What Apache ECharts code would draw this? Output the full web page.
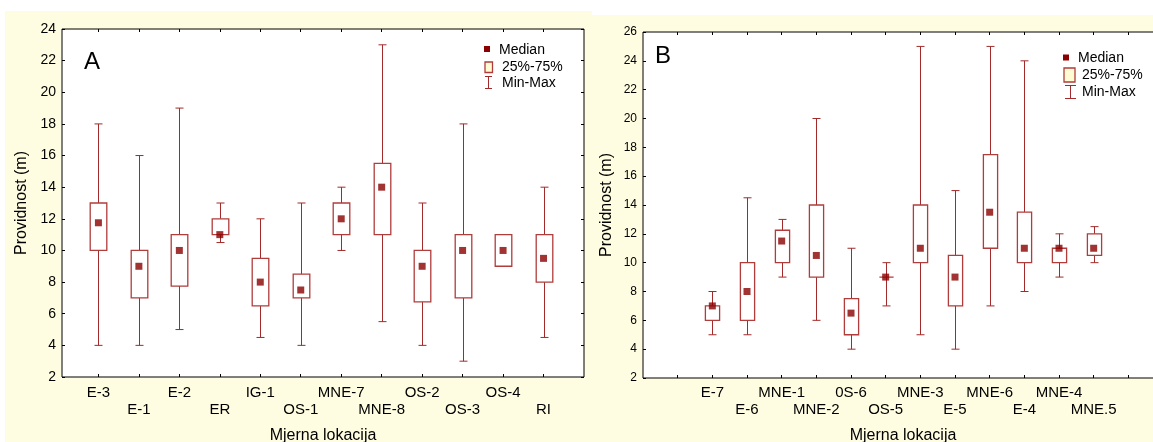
<!DOCTYPE html>
<html>
<head>
<meta charset="utf-8">
<script src="https://cdn.jsdelivr.net/npm/echarts@6/dist/echarts.min.js"></script>
<style>
  html, body { margin: 0; padding: 0; background: #ffffff; }
  #wrap { position: relative; width: 1153px; height: 442px; overflow: hidden; }
  .panel { position: absolute; background: #fffde1; }
  #chart { position: absolute; left: 0; top: 0; width: 1153px; height: 442px; }
</style>
</head>
<body>
<div id="wrap">
  <div class="panel" style="left:5px; top:11px; width:587px; height:431px;"></div>
  <div class="panel" style="left:592px; top:15px; width:561px; height:427px;"></div>
  <div id="chart"></div>
</div>
<script>
// ---------- Panel A data ----------
const catsA   = ['E-3','E-1','E-2','ER','IG-1','OS-1','MNE-7','MNE-8','OS-2','OS-3','OS-4','RI'];
const minA    = [4,    4,    5,    10.5, 4.5, 4,   10, 5.5,  4,    3,  9,  4.5];
const q1A     = [10,   7,    7.75, 11,   6.5, 7,   11, 11,   6.75, 7,  9,  8];
const medA    = [11.75,9,    10,   11,   8,   7.5, 12, 14,   9,    10, 10, 9.5];
const q3A     = [13,   10,   11,   12,   9.5, 8.5, 13, 15.5, 10,   11, 11, 11];
const maxA    = [18,   16,   19,   13,   12,  13,  14, 23,   13,   18, 11, 14];
const yTicksA = [2,4,6,8,10,12,14,16,18,20,22,24];

// ---------- Panel B data ----------
const catsB   = ['E-7','E-6','MNE-1','MNE-2','0S-6','OS-5','MNE-3','E-5','MNE-6','E-4','MNE-4','MNE.5'];
const minB    = [5, 5,   9,     6,    4,   7, 5,  4,    7,    8,    9,  10];
const q1B     = [6, 6,   10,    9,    5,   9, 10, 7,    11,   10,   10, 10.5];
const medB    = [7, 8,   11.5,  10.5, 6.5, 9, 11, 9,    13.5, 11,   11, 11];
const q3B     = [7, 10,  12.25, 14,   7.5, 9, 14, 10.5, 17.5, 13.5, 11, 12];
const maxB    = [8, 14.5,13,    20,   11,  10,25, 15,   25,   24,   12, 12.5];
const yTicksB = [2,4,6,8,10,12,14,16,18,20,22,24,26];

// positions of categories on the x scale
const posA = catsA.map((c, i) => i + 1);       // 1..12
const posB = catsB.map((c, i) => i + 2);       // 2..13 (slots 1 and 14 empty)
const tickPosB = [1].concat(posB, [14]);
const rowA1 = posA.filter((p, i) => i % 2 === 0), rowA2 = posA.filter((p, i) => i % 2 === 1);
const rowB1 = posB.filter((p, i) => i % 2 === 0), rowB2 = posB.filter((p, i) => i % 2 === 1);

const FONT = '"Liberation Sans", Arial, sans-serif';
const LINE = '#a32a2a';
const MED = '#8b0000';

function boxData(pos, mn, q1, md, q3, mx) {
  return pos.map((p, i) => [p, mn[i], q1[i], md[i], q3[i], mx[i]]);
}
function medData(pos, md) { return pos.map((p, i) => [p, md[i]]); }

function renderBox(params, api) {
  const x = api.value(0);
  const pMin = api.coord([x, api.value(1)]);
  const pQ1 = api.coord([x, api.value(2)]);
  const pQ3 = api.coord([x, api.value(4)]);
  const pMax = api.coord([x, api.value(5)]);
  const bw = api.size([1, 0])[0] * 0.41;
  const cw = 8;
  const cx = Math.round(pMin[0]) + 0.5;
  const st = { stroke: LINE, lineWidth: 1, fill: null };
  const ch = [];
  ch.push({ type: 'line', shape: { x1: cx, y1: pMax[1], x2: cx, y2: pQ3[1] }, style: st });
  ch.push({ type: 'line', shape: { x1: cx, y1: pQ1[1], x2: cx, y2: pMin[1] }, style: st });
  ch.push({ type: 'line', shape: { x1: cx - cw / 2, y1: pMax[1], x2: cx + cw / 2, y2: pMax[1] }, style: st });
  ch.push({ type: 'line', shape: { x1: cx - cw / 2, y1: pMin[1], x2: cx + cw / 2, y2: pMin[1] }, style: st });
  ch.push({ type: 'rect', shape: { x: cx - bw / 2, y: pQ3[1], width: bw, height: pQ1[1] - pQ3[1] },
            style: { stroke: '#b03c3c', lineWidth: 1.3, fill: '#ffffff' } });
  return { type: 'group', children: ch };
}

function lblA(v) { const i = posA.indexOf(Math.round(v)); return i < 0 ? '' : catsA[i]; }
function lblB(v) { const i = posB.indexOf(Math.round(v)); return i < 0 ? '' : catsB[i]; }

const gridA = { left: 62, top: 29, width: 522, height: 348 };
const gridB = { left: 643, top: 32, width: 520, height: 346 };

const chart = echarts.init(document.getElementById('chart'), null, { renderer: 'canvas' });

const tickStyle = { show: true, inside: true, length: 3, lineStyle: { color: '#000', width: 1 } };
const labelBase = { color: '#000', fontSize: 15, fontFamily: FONT, showMinLabel: true, showMaxLabel: true, hideOverlap: false };

function labelAxis(grid, min, max, vals, fmt, margin, extra) {
  return Object.assign({
    type: 'value', gridIndex: grid, min: min, max: max, position: 'bottom',
    splitLine: { show: false }, axisLine: { show: false }, axisTick: { show: false },
    axisLabel: Object.assign({ customValues: vals, formatter: fmt, margin: margin }, labelBase)
  }, extra || {});
}

const option = {
  backgroundColor: 'transparent',
  animation: false,
  textStyle: { fontFamily: FONT },
  grid: [
    Object.assign({ show: true, backgroundColor: '#ffffff', borderColor: '#000', borderWidth: 1, outerBoundsMode: 'none', containLabel: false }, gridA),
    Object.assign({ show: true, backgroundColor: '#ffffff', borderColor: '#000', borderWidth: 1, outerBoundsMode: 'none', containLabel: false }, gridB)
  ],
  xAxis: [
    // 0: panel A main axis (ticks + first label row + name)
    labelAxis(0, 0.1, 13, rowA1, lblA, 8, {
      axisTick: Object.assign({ customValues: posA }, tickStyle),
      name: 'Mjerna lokacija', nameLocation: 'middle', nameGap: 51,
      nameTextStyle: { color: '#000', fontSize: 16, fontFamily: FONT } }),
    // 1: panel A second label row
    labelAxis(0, 0.1, 13, rowA2, lblA, 25),
    // 2: panel A top ticks
    { type: 'value', gridIndex: 0, min: 0.1, max: 13, position: 'top',
      splitLine: { show: false }, axisLine: { show: false },
      axisTick: Object.assign({ customValues: posA }, tickStyle), axisLabel: { show: false } },
    // 3: panel B main axis
    labelAxis(1, 0, 15, rowB1, lblB, 7, {
      axisTick: Object.assign({ customValues: tickPosB }, tickStyle),
      name: 'Mjerna lokacija', nameLocation: 'middle', nameGap: 50,
      nameTextStyle: { color: '#000', fontSize: 16, fontFamily: FONT } }),
    // 4: panel B second label row
    labelAxis(1, 0, 15, rowB2, lblB, 24),
    // 5: panel B top ticks
    { type: 'value', gridIndex: 1, min: 0, max: 15, position: 'top',
      splitLine: { show: false }, axisLine: { show: false },
      axisTick: Object.assign({ customValues: tickPosB }, tickStyle), axisLabel: { show: false } }
  ],
  yAxis: [
    { type: 'value', gridIndex: 0, min: yTicksA[0], max: yTicksA[yTicksA.length - 1], interval: 2, position: 'left',
      splitLine: { show: false }, axisLine: { show: false },
      axisTick: Object.assign({ customValues: yTicksA }, tickStyle),
      axisLabel: { customValues: yTicksA, color: '#000', fontSize: 14, margin: 6, fontFamily: FONT },
      name: 'Providnost (m)', nameLocation: 'middle', nameGap: 32, nameRotate: 90,
      nameTextStyle: { color: '#000', fontSize: 16, fontFamily: FONT } },
    { type: 'value', gridIndex: 0, min: yTicksA[0], max: yTicksA[yTicksA.length - 1], interval: 2, position: 'right',
      splitLine: { show: false }, axisLine: { show: false },
      axisTick: Object.assign({ customValues: yTicksA }, tickStyle), axisLabel: { show: false } },
    { type: 'value', gridIndex: 1, min: yTicksB[0], max: yTicksB[yTicksB.length - 1], interval: 2, position: 'left',
      splitLine: { show: false }, axisLine: { show: false },
      axisTick: Object.assign({ customValues: yTicksB }, tickStyle),
      axisLabel: { customValues: yTicksB, color: '#000', fontSize: 12, margin: 6, fontFamily: FONT },
      name: 'Providnost (m)', nameLocation: 'middle', nameGap: 28, nameRotate: 90,
      nameTextStyle: { color: '#000', fontSize: 16, fontFamily: FONT } }
  ],
  series: [
    { type: 'custom', xAxisIndex: 0, yAxisIndex: 0, renderItem: renderBox, z: 2,
      data: boxData(posA, minA, q1A, medA, q3A, maxA), encode: { x: 0, y: [1, 5] } },
    { type: 'scatter', xAxisIndex: 0, yAxisIndex: 0, symbol: 'rect', symbolSize: 7, z: 3,
      itemStyle: { color: MED }, data: medData(posA, medA) },
    { type: 'custom', xAxisIndex: 3, yAxisIndex: 2, renderItem: renderBox, z: 2,
      data: boxData(posB, minB, q1B, medB, q3B, maxB), encode: { x: 0, y: [1, 5] } },
    { type: 'scatter', xAxisIndex: 3, yAxisIndex: 2, symbol: 'rect', symbolSize: 7, z: 3,
      itemStyle: { color: MED }, data: medData(posB, medB) }
  ],
  graphic: [
    // panel letters
    { type: 'text', left: 84, top: 50, style: { text: 'A', fontSize: 24, fontFamily: FONT, fill: '#000' } },
    { type: 'text', left: 655, top: 44, style: { text: 'B', fontSize: 24, fontFamily: FONT, fill: '#000' } },
    // legend A
    { type: 'rect', shape: { x: 484, y: 46, width: 6, height: 6 }, style: { fill: MED } },
    { type: 'text', x: 499, y: 50, style: { text: 'Median', fontSize: 14, fontFamily: FONT, fill: '#000', verticalAlign: 'middle' } },
    { type: 'rect', shape: { x: 485, y: 62, width: 7.5, height: 10.5 }, style: { fill: '#fffbd2', stroke: '#b03c3c', lineWidth: 1.3 } },
    { type: 'text', x: 502, y: 67, style: { text: '25%-75%', fontSize: 14, fontFamily: FONT, fill: '#000', verticalAlign: 'middle' } },
    { type: 'line', shape: { x1: 488.5, y1: 76, x2: 488.5, y2: 89 }, style: { stroke: LINE, lineWidth: 1 } },
    { type: 'line', shape: { x1: 485, y1: 76.5, x2: 492, y2: 76.5 }, style: { stroke: LINE, lineWidth: 1 } },
    { type: 'line', shape: { x1: 485, y1: 88.5, x2: 492, y2: 88.5 }, style: { stroke: LINE, lineWidth: 1 } },
    { type: 'text', x: 502, y: 83, style: { text: 'Min-Max', fontSize: 14, fontFamily: FONT, fill: '#000', verticalAlign: 'middle' } },
    // legend B
    { type: 'rect', shape: { x: 1063, y: 54.5, width: 6, height: 6 }, style: { fill: MED } },
    { type: 'text', x: 1078, y: 58, style: { text: 'Median', fontSize: 14, fontFamily: FONT, fill: '#000', verticalAlign: 'middle' } },
    { type: 'rect', shape: { x: 1064, y: 68, width: 11, height: 14 }, style: { fill: '#fffbd2', stroke: '#b03c3c', lineWidth: 1.3 } },
    { type: 'text', x: 1082, y: 75, style: { text: '25%-75%', fontSize: 14, fontFamily: FONT, fill: '#000', verticalAlign: 'middle' } },
    { type: 'line', shape: { x1: 1070.5, y1: 85, x2: 1070.5, y2: 99 }, style: { stroke: LINE, lineWidth: 1 } },
    { type: 'line', shape: { x1: 1065, y1: 85.5, x2: 1076, y2: 85.5 }, style: { stroke: LINE, lineWidth: 1 } },
    { type: 'line', shape: { x1: 1065, y1: 98.5, x2: 1076, y2: 98.5 }, style: { stroke: LINE, lineWidth: 1 } },
    { type: 'text', x: 1082, y: 92.5, style: { text: 'Min-Max', fontSize: 14, fontFamily: FONT, fill: '#000', verticalAlign: 'middle' } }
  ]
};
chart.setOption(option);
</script>
</body>
</html>
